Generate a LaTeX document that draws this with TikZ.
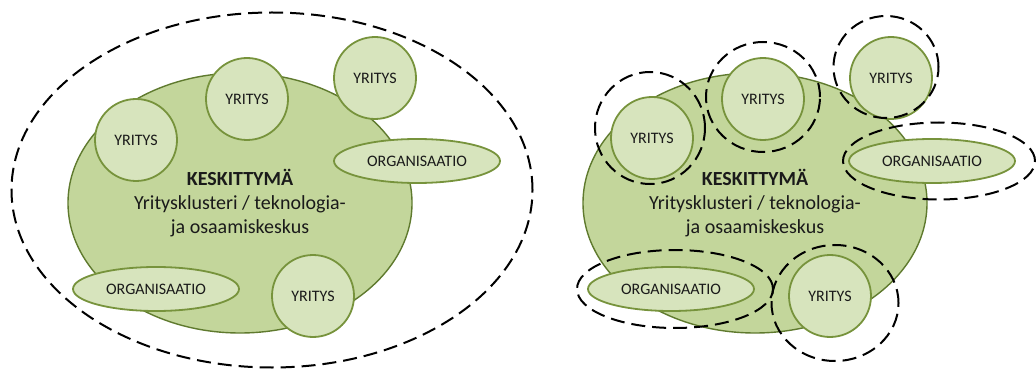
\documentclass[tikz,border=0pt]{standalone}
\usepackage{fontspec}
\setmainfont{Carlito}
\usepackage{xcolor}
\usepackage{tikz}
\usetikzlibrary{shapes.geometric, positioning, backgrounds}

\definecolor{clusterfill}{HTML}{C3D69B}
\definecolor{clusterline}{HTML}{5F7A2E}
\definecolor{unitfill}{HTML}{D7E4BD}
\definecolor{unitline}{HTML}{77933C}
\definecolor{textgray}{HTML}{1A1A1A}

\begin{document}
\begin{tikzpicture}[x=1pt,y=-1pt,
                    cluster node/.style={ellipse,draw=clusterline,fill=clusterfill,line width=1.4pt,
                      minimum width=344pt,minimum height=260pt,inner sep=0pt,align=center,
                      text=textgray,font=\fontsize{20}{24}\selectfont},
                    firm node/.style={circle,draw=unitline,fill=unitfill,line width=1.8pt,
                      minimum size=82pt,inner sep=0pt,text=textgray,font=\fontsize{16}{18}\selectfont},
                    org node/.style={ellipse,draw=unitline,fill=unitfill,line width=1.8pt,
                      minimum width=166pt,minimum height=44pt,inner sep=0pt,text=textgray,
                      font=\fontsize{16}{18}\selectfont},
                    ring/.style={ellipse,draw=black,line width=2pt,dash pattern=on 14pt off 7pt,inner sep=0pt}]

  \useasboundingbox (0,0) rectangle (1036,374);

  % left: one network around the whole cluster
  \node[ring,minimum width=521pt,minimum height=355pt] (outer) at (272,190) {};
  \node[cluster node] (c1) at (240,203) {\textbf{KESKITTYMÄ}\\Yritysklusteri / teknologia-\\ja osaamiskeskus};
  \node[firm node] (f11) at (136,140) {YRITYS};
  \node[firm node] (f12) at (247,99) {YRITYS};
  \node[firm node] (f13) at (375,78) {YRITYS};
  \node[firm node] (f14) at (313,296) {YRITYS};
  \node[org node] (o11) at (417,161) {ORGANISAATIO};
  \node[org node] (o12) at (156,289) {ORGANISAATIO};

  % right: every actor has its own network
  \node[cluster node] (c2) at (755,203) {\textbf{KESKITTYMÄ}\\Yritysklusteri / teknologia-\\ja osaamiskeskus};
  \node[firm node] (f21) at (652,138) {YRITYS};
  \node[firm node] (f22) at (763,99) {YRITYS};
  \node[firm node] (f23) at (891,78) {YRITYS};
  \node[firm node] (f24) at (830,296) {YRITYS};
  \node[org node] (o21) at (932,161) {ORGANISAATIO};
  \node[org node] (o22) at (671,289) {ORGANISAATIO};

  \node[ring,minimum width=110pt,minimum height=112pt] (r21) at (650,128) {};
  \node[ring,minimum width=114pt,minimum height=110pt] (r22) at (763,97) {};
  \node[ring,minimum width=105pt,minimum height=102pt] (r23) at (886,67) {};
  \node[ring,minimum width=127pt,minimum height=116pt] (r24) at (835,303) {};
  \node[ring,minimum width=192pt,minimum height=77pt] (r25) at (939,161) {};
  \node[ring,minimum width=196pt,minimum height=78pt] (r26) at (675,289) {};

\end{tikzpicture}
\end{document}
